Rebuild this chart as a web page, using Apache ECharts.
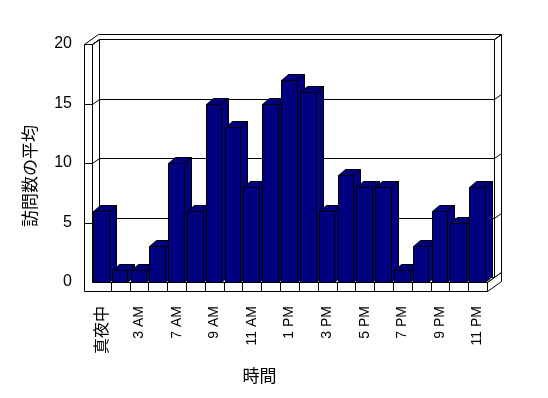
<!DOCTYPE html>
<html>
<head>
<meta charset="utf-8">
<script src="https://cdn.jsdelivr.net/npm/echarts@6/dist/echarts.min.js"></script>
<style>html,body{margin:0;padding:0;background:#fff;}#c{width:548px;height:398px;}</style>
</head>
<body>
<div id="c"></div>
<script>
const categories = ['真夜中','2 AM','3 AM','6 AM','7 AM','8 AM','9 AM','10 AM','11 AM','12 PM','1 PM','2 PM','3 PM','4 PM','5 PM','6 PM','7 PM','8 PM','9 PM','10 PM','11 PM'];
const visits = [6,1,1,3,10,6,15,13,8,15,17,16,6,9,8,8,1,3,6,5,8];
const yTicks = [0,5,10,15,20];
const xTitle = '時間';
const yTitle = '訪問数の平均';

const FONT = "'Liberation Sans','Noto Sans CJK JP',sans-serif";
const yMax = yTicks[yTicks.length - 1];
const WHITE = '#ffffff', NAVY = '#000080', BLACK = '#000000';

function px(v) { return Math.round(v) + 0.5; }
function poly(points, fill, z2) {
  return { type: 'polygon', z2: z2 || 0, shape: { points: points.map(p => [px(p[0]), px(p[1])]) },
    style: { fill: fill, stroke: BLACK, lineWidth: 1 } };
}
function line(points, z2) {
  return { type: 'polyline', z2: z2 || 0, shape: { points: points.map(p => [px(p[0]), px(p[1])]) },
    style: { fill: null, stroke: BLACK, lineWidth: 1 } };
}

function renderFrame(params, api) {
  const n = categories.length;
  const b = api.size([1, 0])[0];
  const xL = api.coord([0, 0])[0] - b / 2;
  const xR = api.coord([n - 1, 0])[0] + b / 2;
  const y0 = api.coord([0, 0])[1];
  const yT = api.coord([0, yMax])[1];
  const dx = 7, dy = -5, tw = 8, tf = 9;
  const ch = [];
  // back wall inner face
  ch.push(poly([[xL + dx, yT + dy], [xR + dx, yT + dy], [xR + dx, y0 + dy], [xL + dx, y0 + dy]], WHITE, 1));
  // left wall inner face
  ch.push(poly([[xL, yT], [xL + dx, yT + dy], [xL + dx, y0 + dy], [xL, y0]], WHITE, 2));
  // floor top
  ch.push(poly([[xL, y0], [xR, y0], [xR + dx, y0 + dy], [xL + dx, y0 + dy]], WHITE, 3));
  // gridlines
  yTicks.forEach(t => {
    if (t === 0) return;
    const y = api.coord([0, t])[1];
    ch.push(line([[xL, y], [xL + dx, y + dy], [xR + dx, y + dy], [xR + 2 * dx, y + 2 * dy]], 8));
    ch.push(line([[xL - tw, y], [xL, y]], 9));
  });
  // top of walls
  ch.push(poly([[xL - tw, yT], [xL - tw + 2 * dx, yT + 2 * dy], [xR + 2 * dx, yT + 2 * dy], [xR + dx, yT + dy], [xL + dx, yT + dy], [xL, yT]], WHITE, 4));
  // back wall right face
  ch.push(poly([[xR + dx, yT + dy], [xR + 2 * dx, yT + 2 * dy], [xR + 2 * dx, y0 + 2 * dy], [xR + dx, y0 + dy]], WHITE, 5));
  // floor right face
  ch.push(poly([[xR, y0], [xR + 2 * dx, y0 + 2 * dy], [xR + 2 * dx, y0 + tf + 2 * dy], [xR, y0 + tf]], WHITE, 6));
  // front L face (left wall front + floor front)
  ch.push(poly([[xL - tw, yT], [xL, yT], [xL, y0], [xR, y0], [xR, y0 + tf], [xL - tw, y0 + tf]], WHITE, 7));
  // floor dividers
  for (let k = 1; k < n; k++) {
    const x = xL + k * b;
    ch.push(line([[x, y0], [x, y0 + tf]], 10));
  }
  return { type: 'group', children: ch };
}

function renderBar(params, api) {
  const i = api.value(0), v = api.value(1);
  const top = api.coord([i, v]);
  const base = api.coord([i, 0]);
  const b = api.size([1, 0])[0];
  const x1 = base[0] - b / 2 + 1;
  const x2 = x1 + b * 0.83;
  const yTop = top[1], yB = base[1];
  const bx = 7, by = -6;
  return {
    type: 'group',
    children: [
      poly([[x2, yTop], [x2 + bx, yTop + by], [x2 + bx, yB + by], [x2, yB]], NAVY, 1),
      poly([[x1, yTop], [x1 + bx, yTop + by], [x2 + bx, yTop + by], [x2, yTop]], NAVY, 2),
      poly([[x1, yTop], [x2, yTop], [x2, yB], [x1, yB]], NAVY, 3)
    ]
  };
}

const chart = echarts.init(document.getElementById('c'), null, { renderer: 'canvas' });
chart.setOption({
  animation: false,
  backgroundColor: '#ffffff',
  grid: { left: 92, right: 61, top: 44, bottom: 116, containLabel: false },
  xAxis: {
    type: 'category',
    data: categories,
    axisLine: { show: false },
    axisTick: { show: false },
    splitLine: { show: false },
    axisLabel: {
      interval: 1,
      rotate: 90,
      margin: 24,
      color: BLACK,
      fontSize: 14,
      fontFamily: FONT,
      formatter: v => /^[\x00-\x7F]+$/.test(v) ? v : '{j|' + v + '}',
      rich: { j: { fontSize: 16, fontFamily: "'Noto Sans CJK JP',sans-serif", color: BLACK } }
    },
    name: xTitle,
    nameLocation: 'middle',
    nameGap: 85,
    nameTextStyle: { color: BLACK, fontSize: 17, fontFamily: "'Noto Sans CJK JP',sans-serif", padding: [0, 60, 0, 0] }
  },
  yAxis: {
    type: 'value',
    min: 0,
    max: yMax,
    interval: 5,
    axisLine: { show: false },
    axisTick: { show: false },
    splitLine: { show: false },
    axisLabel: { margin: 20, color: BLACK, fontSize: 16, fontFamily: FONT },
    name: yTitle,
    nameLocation: 'middle',
    nameRotate: 90,
    nameGap: 54,
    nameTextStyle: { color: BLACK, fontSize: 17, fontFamily: "'Noto Sans CJK JP',sans-serif", padding: [0, 26, 0, 0] }
  },
  series: [
    { type: 'custom', name: 'frame', z: 1, silent: true, renderItem: renderFrame, data: [[0, 0]], encode: { x: 0, y: 1 } },
    { type: 'custom', name: yTitle, z: 2, renderItem: renderBar, data: visits.map((v, i) => [i, v]), encode: { x: 0, y: 1 } }
  ]
});
</script>
</body>
</html>
